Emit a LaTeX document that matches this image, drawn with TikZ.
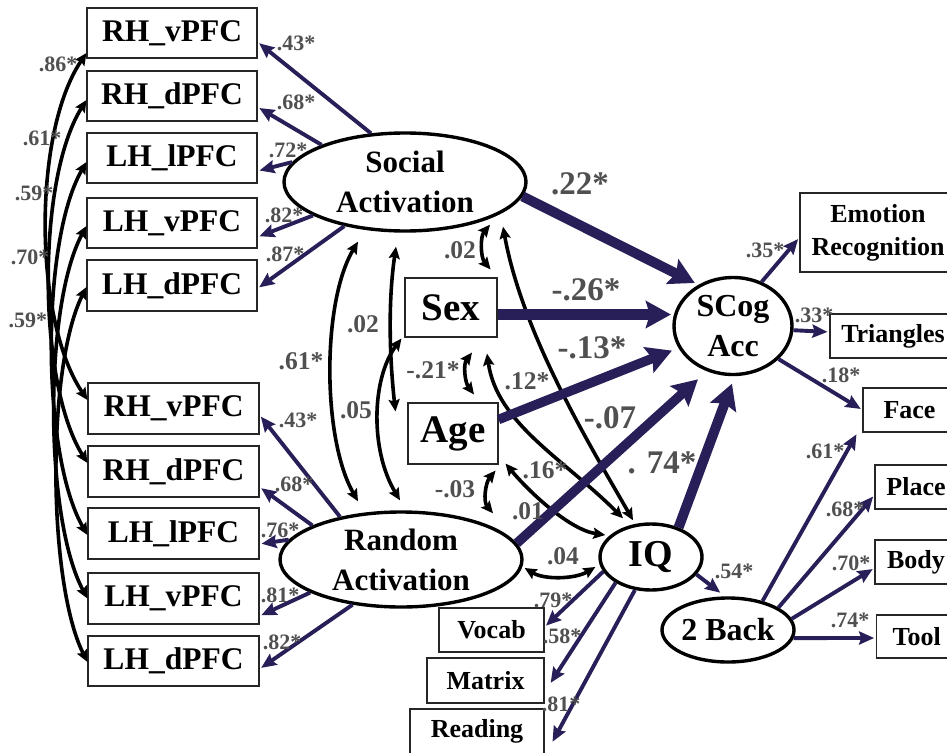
\documentclass[tikz,border=0pt]{standalone}
\usepackage{fontspec}
\setmainfont{Liberation Serif}
\usetikzlibrary{arrows.meta,shapes.geometric}
\definecolor{pathc}{RGB}{40,30,88}
\definecolor{labc}{RGB}{80,80,80}

\begin{document}
\begin{tikzpicture}[x=1pt,y=-1pt,
  obs/.style={draw=black!85, line width=1.1pt, rectangle, inner sep=0pt, align=center,
              font=\bfseries\fontsize{31.5}{33}\selectfont},
  obssm/.style={obs, font=\bfseries\fontsize{26}{33}\selectfont},
  lat/.style={draw=black, line width=3.4pt, ellipse, inner sep=0pt, align=center,
              font=\bfseries\fontsize{31}{40}\selectfont},
  meas/.style={draw=pathc, line width=3.9pt, -{Stealth[length=15pt,width=13pt,inset=2pt]}, shorten >=2pt},
  struct/.style={draw=pathc, -{Stealth[length=25pt,width=27pt,inset=4pt]}},
  cov/.style={draw=black, line width=3.6pt,
              {Stealth[length=12pt,width=11pt,inset=2pt]}-{Stealth[length=12pt,width=11pt,inset=2pt]}},
  sm/.style={text=labc, font=\bfseries\fontsize{22}{22}\selectfont, inner sep=0pt},
  md/.style={text=labc, font=\bfseries\fontsize{25.5}{25}\selectfont, inner sep=0pt},
  lg/.style={text=labc, font=\bfseries\fontsize{33}{33}\selectfont, inner sep=0pt},
]
\useasboundingbox (0,0) rectangle (947,752);

% ---- indicators of the social-task latent
\node[obs, minimum width=170pt, minimum height=50pt] (t1) at (172,33)    {RH\_vPFC};
\node[obs, minimum width=170pt, minimum height=50pt] (t2) at (172,96)    {RH\_dPFC};
\node[obs, minimum width=170pt, minimum height=50pt] (t3) at (172,158)   {LH\_lPFC};
\node[obs, minimum width=170pt, minimum height=50pt] (t4) at (172,223)   {LH\_vPFC};
\node[obs, minimum width=170pt, minimum height=51pt] (t5) at (172,285.5) {LH\_dPFC};

% ---- indicators of the random-task latent
\node[obs, minimum width=171pt, minimum height=51pt] (b1) at (173.5,408.5) {RH\_vPFC};
\node[obs, minimum width=171pt, minimum height=51pt] (b2) at (173.5,471.5) {RH\_dPFC};
\node[obs, minimum width=171pt, minimum height=51pt] (b3) at (173.5,533.5) {LH\_lPFC};
\node[obs, minimum width=171pt, minimum height=51pt] (b4) at (173.5,598.5) {LH\_vPFC};
\node[obs, minimum width=171pt, minimum height=50pt] (b5) at (173.5,661)   {LH\_dPFC};

% ---- latent variables
\node[lat, minimum width=242pt, minimum height=98pt] (SA) at (405,182) {Social\\Activation};
\node[lat, minimum width=242pt, minimum height=95pt] (RA) at (401,559.5) {Random\\Activation};
\node[lat, minimum width=118pt, minimum height=97pt, font=\bfseries\fontsize{32}{40}\selectfont] (SCog) at (733,326) {SCog\\Acc};
\node[lat, minimum width=102pt, minimum height=66pt, font=\bfseries\fontsize{38}{40}\selectfont] (IQ) at (651,557) {IQ};
\node[lat, minimum width=132pt, minimum height=64pt, font=\bfseries\fontsize{32}{40}\selectfont] (TB) at (728,630) {2 Back};

% ---- covariates
\node[obs, minimum width=92pt, minimum height=59pt, font=\bfseries\fontsize{39}{40}\selectfont] (Sex) at (451,307.5) {Sex};
\node[obs, minimum width=90pt, minimum height=61pt, font=\bfseries\fontsize{39}{40}\selectfont] (Age) at (453,433.5) {Age};

% ---- outcome indicators
\node[obssm, minimum width=156pt, minimum height=79pt] (ER) at (878,232.5) {Emotion\\Recognition};
\node[obssm, minimum width=126pt, minimum height=44pt] (TR) at (893,336)   {Triangles};
\node[obssm, minimum width=93pt,  minimum height=44pt] (FA) at (909.5,410) {Face};
\node[obssm, minimum width=82pt,  minimum height=44pt] (PL) at (916,487)   {Place};
\node[obssm, minimum width=82pt,  minimum height=44pt] (BO) at (916,562)   {Body};
\node[obssm, minimum width=80pt,  minimum height=43pt] (TO) at (916.7,636.5) {Tool};
\node[obssm, minimum width=105pt, minimum height=44pt] (VO) at (491.5,630)  {Vocab};
\node[obssm, minimum width=117pt, minimum height=45pt] (MA) at (485.5,680.5) {Matrix};
\node[obssm, minimum width=134pt, minimum height=45pt] (RE) at (477,731.5)  {Reading};

% ---- loadings, social activation
\draw[meas] (SA.125)  -- ([yshift=-9pt]t1.east);
\draw[meas] (SA.156)  -- ([yshift=-11pt]t2.east);
\draw[meas] (SA.170)  -- ([yshift=-13pt]t3.east);
\draw[meas] (SA.-160) -- ([yshift=-14pt]t4.east);
\draw[meas] (SA.-144) -- ([yshift=-3pt]t5.east);

% ---- loadings, random activation
\draw[meas] (RA.145)  -- ([yshift=-6.5pt]b1.east);
\draw[meas] (RA.159)  -- ([yshift=-15.5pt]b2.east);
\draw[meas] (RA.170)  -- ([yshift=-10.5pt]b3.east);
\draw[meas] (RA.-160) -- ([yshift=-17.5pt]b4.east);
\draw[meas] (RA.-137) -- ([yshift=-8pt]b5.east);

% ---- residual covariances between matching regions
\draw[cov] ([yshift=-20pt]t1.west)  .. controls +(-54,80) and +(-54,-80) .. ([yshift=8.5pt]b1.west);
\draw[cov] ([yshift=-4pt]t2.west)   .. controls +(-50,80) and +(-50,-80) .. ([yshift=8.5pt]b2.west);
\draw[cov] ([yshift=-4pt]t3.west)   .. controls +(-46,80) and +(-46,-80) .. ([yshift=-1.5pt]b3.west);
\draw[cov] ([yshift=-3pt]t4.west)   .. controls +(-43,80) and +(-43,-80) .. (b4.west);
\draw[cov] ([yshift=-1.5pt]t5.west) .. controls +(-40,80) and +(-40,-80) .. ([yshift=-1pt]b5.west);

% ---- covariances among predictors
\draw[cov] ([xshift=-47pt,yshift=-9pt]SA.south) .. controls +(-36,60) and +(-36,-63) .. ([xshift=-43pt,yshift=9pt]RA.north);
\draw[cov] ([xshift=-9pt,yshift=-14pt]SA.south) .. controls +(-8,55) and +(-6,-55) .. ([xshift=-12pt,yshift=-9pt]Age.north west);
\draw[cov] ([xshift=-3pt,yshift=-1pt]Sex.south west) .. controls +(-30,40) and +(-30,-50) .. ([xshift=-1pt,yshift=10pt]RA.north);
\draw[cov] ([xshift=85pt,yshift=8pt]SA.south) .. controls +(-10,12) and +(-10,-12) .. ([xshift=-7pt,yshift=8pt]Sex.north east);
\draw[cov] ([xshift=21pt,yshift=-15pt]Sex.south) .. controls +(-9,12) and +(-9,-12) .. ([xshift=21pt,yshift=8pt]Age.north);
\draw[cov] ([xshift=-3pt,yshift=-6pt]Age.south east) .. controls +(-10,12) and +(-10,-12) .. ([xshift=92pt,yshift=-3pt]RA.north);
\draw[cov] ([xshift=36pt,yshift=-16pt]Sex.south) .. controls +(10,70) and +(-60,-60) .. ([xshift=-28pt,yshift=4pt]IQ.north);
\draw[cov] ([xshift=98pt,yshift=6pt]SA.south) .. controls +(20,110) and +(-40,-70) .. ([xshift=-18pt,yshift=2pt]IQ.north);
\draw[cov] ([xshift=7pt,yshift=1pt]Age.south east) .. controls +(25,30) and +(-35,-5) .. ([xshift=7pt,yshift=22pt]IQ.west);
\draw[cov] ([xshift=1pt,yshift=-8.5pt]RA.east) .. controls +(20,12) and +(-20,12) .. ([xshift=-3pt,yshift=-10pt]IQ.west);

% ---- structural paths to social cognition accuracy
\draw[struct, line width=10pt, shorten >=4pt] (SA.-7) -- (SCog.130);
\draw[struct, line width=11pt, shorten >=3pt]  (Sex.east |- SCog.169) -- (SCog.169);
\draw[struct, line width=9.5pt, shorten >=7pt] ([yshift=14pt]Age.east) -- (SCog.-158);
\draw[struct, line width=9.5pt, shorten >=12pt] (RA.8) -- (SCog.-120);
\draw[struct, line width=10pt, shorten >=8pt]  (IQ.47) -- (SCog.-88);

% ---- outcome loadings
\draw[meas] (SCog.57) -- ([yshift=-5pt]ER.west);
\draw[meas] (SCog.-4) -- ([yshift=4pt]TR.west);
\draw[meas] (SCog.-36) -- (FA.west);
\draw[meas] (TB.40) -- ([xshift=-5pt]FA.south west);
\draw[meas] (TB.24) -- ([yshift=-8pt]PL.west);
\draw[meas] (TB.10) -- ([yshift=-6pt]BO.west);
\draw[meas] (TB.-7) -- ([yshift=-1.5pt]TO.west);
\draw[meas, shorten >=6pt] (IQ.-21) -- (TB.95);
\draw[meas] (IQ.197) -- ([yshift=3pt]VO.east);
\draw[meas] (IQ.216) -- ([xshift=5pt,yshift=-4pt]MA.east);
\draw[meas] (IQ.244) -- ([xshift=7pt,yshift=-12pt]RE.east);

% ---- coefficient labels
\node[sm] (c1) at (58,64)  {.86*};
\node[sm] (c2) at (42,138) {.61*};
\node[sm] (c3) at (34,193) {.59*};
\node[sm] (c4) at (30,257) {.70*};
\node[sm] (c5) at (28,320) {.59*};

\node[sm] (s1) at (296,43)  {.43*};
\node[sm] (s2) at (296,102) {.68*};
\node[sm] (s3) at (288,150) {.72*};
\node[sm] (s4) at (284,215) {.82*};
\node[sm] (s5) at (285,254) {.87*};

\node[sm] (r1) at (298,420) {.43*};
\node[sm] (r2) at (294,484) {.68*};
\node[sm] (r3) at (280,530) {.76*};
\node[sm] (r4) at (280,595) {.81*};
\node[sm] (r5) at (282,642) {.82*};

\node[md] (k1)  at (301,361) {.61*};
\node[md] (k2)  at (363,324) {.02};
\node[md] (k3)  at (356,410) {.05};
\node[md] (k4)  at (460,250) {.02};
\node[md] (k5)  at (433,370) {-.21*};
\node[md] (k6)  at (527,381) {.12*};
\node[md] (k7)  at (545,470) {.16*};
\node[md] (k8)  at (455,489) {-.03};
\node[md] (k9)  at (528,511) {.01};
\node[md] (k10) at (563,556) {.04};

\node[lg] (p1) at (580,184) {.22*};
\node[lg] (p2) at (586,290) {-.26*};
\node[lg] (p3) at (592,348) {-.13*};
\node[lg] (p4) at (610,418) {-.07};
\node[lg] (p5) at (662,463) {. 74*};

\node[sm] (o1)  at (765,250) {.35*};
\node[sm] (o2)  at (814,315) {.33*};
\node[sm] (o3)  at (841,375) {.18*};
\node[sm] (o4)  at (825,451) {.61*};
\node[sm] (o5)  at (845,509) {.68*};
\node[sm] (o6)  at (851,563) {.70*};
\node[sm] (o7)  at (850,620) {.74*};
\node[sm] (o8)  at (734,571) {.54*};
\node[sm] (o9)  at (553,600) {.79*};
\node[sm] (o10) at (562,636) {.58*};
\node[sm] (o11) at (561,704) {.81*};
\end{tikzpicture}
\end{document}
